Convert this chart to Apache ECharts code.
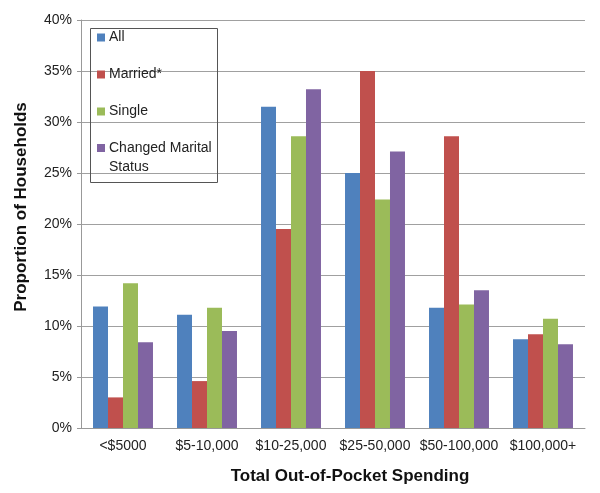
<!DOCTYPE html>
<html>
<head>
<meta charset="utf-8">
<script src="https://cdn.jsdelivr.net/npm/echarts@6/dist/echarts.min.js"></script>
<style>html,body{margin:0;padding:0;background:#fff}#c{width:600px;height:493px}</style>
</head>
<body>
<div id="c"></div>
<script>
var categories = ['<$5000', '$5-10,000', '$10-25,000', '$25-50,000', '$50-100,000', '$100,000+'];
var seriesNames = ['All', 'Married*', 'Single', 'Changed Marital Status'];
var allValues = [11.9, 11.1, 31.5, 25.0, 11.8, 8.7];
var marriedValues = [3.0, 4.6, 19.5, 35.0, 28.6, 9.2];
var singleValues = [14.2, 11.8, 28.6, 22.4, 12.1, 10.7];
var changedValues = [8.4, 9.5, 33.2, 27.1, 13.5, 8.2];
var yTicks = [0, 5, 10, 15, 20, 25, 30, 35, 40];

var colors = ['#4F81BD', '#C0504D', '#9BBB59', '#8064A2'];
var font = 'Liberation Sans, Arial, Helvetica, sans-serif';
var values = [allValues, marriedValues, singleValues, changedValues];

var chart = echarts.init(document.getElementById('c'));
chart.setOption({
  animation: false,
  color: colors,
  textStyle: { fontFamily: font },
  grid: { left: 81, right: 15, top: 20, bottom: 65 },
  legend: [{
    data: seriesNames.slice(0, 3),
    orient: 'vertical',
    left: 97, top: 29.5,
    padding: 0,
    itemWidth: 8, itemHeight: 8, itemGap: 21,
    icon: 'rect',
    textStyle: { fontFamily: font, fontSize: 14, color: '#222', lineHeight: 16, padding: [0, 0, 0, -1] }
  }, {
    data: [seriesNames[3]],
    orient: 'vertical',
    left: 97, top: 119.5,
    padding: 0,
    itemWidth: 8, itemHeight: 8,
    icon: 'rect',
    formatter: function () { return '\nChanged Marital\nStatus'; },
    textStyle: { fontFamily: font, fontSize: 14, color: '#222', lineHeight: 19, padding: [0, 0, 0, -1] }
  }],
  graphic: [{
    type: 'rect',
    shape: { x: 90.5, y: 28.5, width: 127, height: 154 },
    style: { fill: null, stroke: '#555', lineWidth: 1 },
    z: 10
  }],
  xAxis: {
    type: 'category',
    data: categories,
    axisLine: { lineStyle: { color: '#999' } },
    axisTick: { show: false },
    axisLabel: { fontFamily: font, fontSize: 14, color: '#222', margin: 11, interval: 0 },
    name: 'Total Out-of-Pocket Spending',
    nameLocation: 'middle',
    nameGap: 40,
    nameTextStyle: { fontFamily: font, fontSize: 17, fontWeight: 'bold', color: '#111', padding: [0, 0, 0, 34] }
  },
  yAxis: {
    type: 'value',
    min: yTicks[0], max: yTicks[yTicks.length - 1], interval: 5,
    axisLine: { show: true, lineStyle: { color: '#999' } },
    axisTick: { show: true, length: 4, lineStyle: { color: '#999' } },
    splitLine: { lineStyle: { color: '#a0a0a0' } },
    axisLabel: { fontFamily: font, fontSize: 14, color: '#222', margin: 9, formatter: '{value}%' },
    name: 'Proportion of Households',
    nameLocation: 'middle',
    nameGap: 51,
    nameTextStyle: { fontFamily: font, fontSize: 17, fontWeight: 'bold', color: '#111', padding: [0, 0, 0, 34] }
  },
  series: seriesNames.map(function (n, i) {
    return {
      name: n,
      type: 'bar',
      data: values[i],
      barGap: '0%',
      barCategoryGap: '28.6%',
      itemStyle: { color: colors[i] }
    };
  })
});
</script>
</body>
</html>
